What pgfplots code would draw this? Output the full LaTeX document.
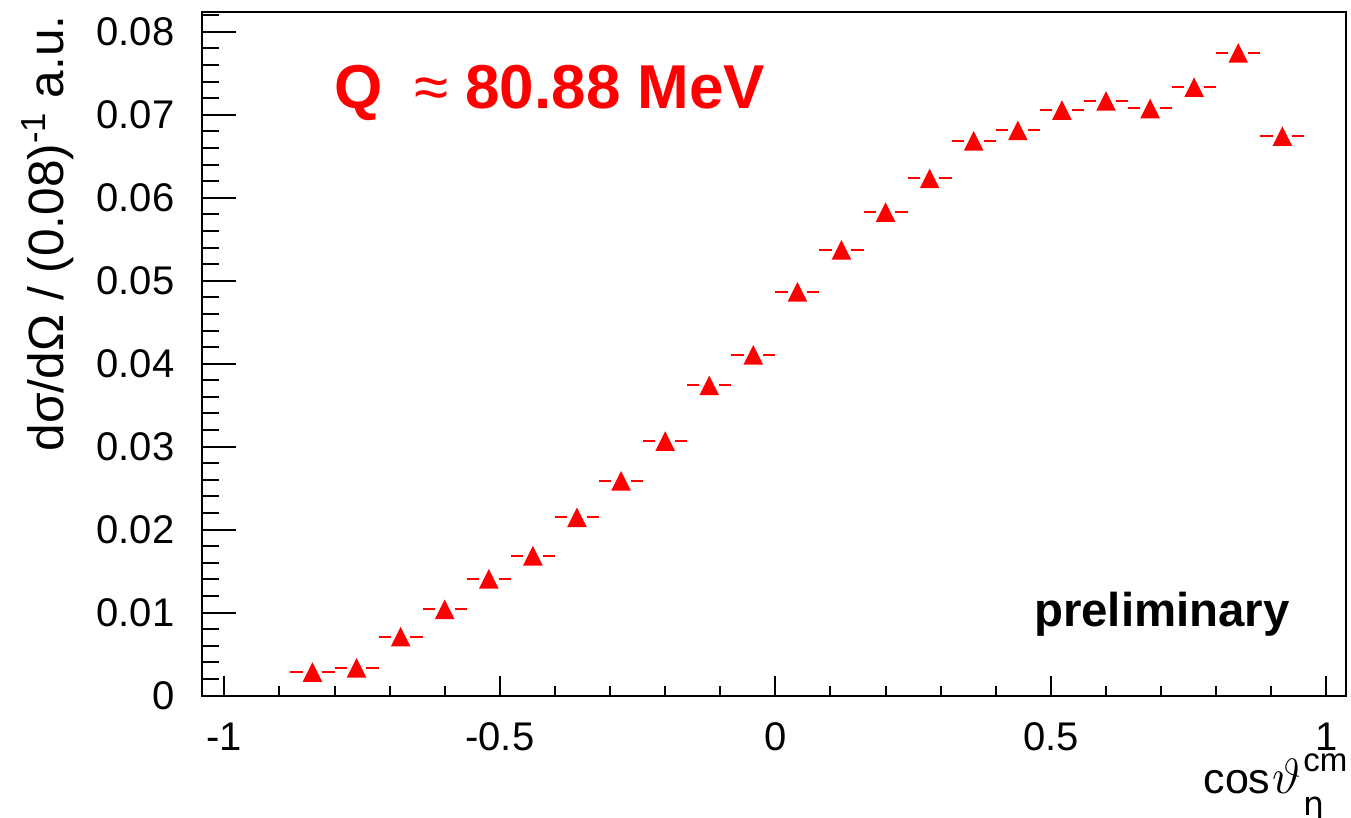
\documentclass[border=0pt]{standalone}
\usepackage{pgfplots}
\pgfplotsset{compat=1.18}
\usepackage{pgfplotstable}
\usepackage{fontspec}
\setmainfont{Liberation Sans}
\newfontfamily\greekfont{DejaVu Sans}

% eta angular distribution, bins of width 0.08 in cos(theta)
\pgfplotstableread{
x      y        ex
-0.84  0.00283  0.04
-0.76  0.00335  0.04
-0.68  0.00709  0.04
-0.60  0.01039  0.04
-0.52  0.01408  0.04
-0.44  0.01685  0.04
-0.36  0.02148  0.04
-0.28  0.02589  0.04
-0.20  0.03067  0.04
-0.12  0.03739  0.04
-0.04  0.04108  0.04
 0.04  0.04867  0.04
 0.12  0.05373  0.04
 0.20  0.05827  0.04
 0.28  0.06234  0.04
 0.36  0.06687  0.04
 0.44  0.06812  0.04
 0.52  0.07057  0.04
 0.60  0.07169  0.04
 0.68  0.07077  0.04
 0.76  0.07334  0.04
 0.84  0.07747  0.04
 0.92  0.06743  0.04
}\xsdata

% filled triangle centred on its bounding box; the error bar is
% blanked out across the marker's width, leaving a small gap
\pgfdeclareplotmark{ctriangle}{%
  \pgfsetfillcolor{white}%
  \pgfpathrectanglecorners{\pgfqpoint{-\pgfplotmarksize}{-1bp}}{\pgfqpoint{\pgfplotmarksize}{1bp}}%
  \pgfusepathqfill
  \pgfsetfillcolor{red}%
  \pgfpathmoveto{\pgfqpoint{0pt}{\pgfplotmarksize}}%
  \pgfpathlineto{\pgfqpoint{-\pgfplotmarksize}{-\pgfplotmarksize}}%
  \pgfpathlineto{\pgfqpoint{\pgfplotmarksize}{-\pgfplotmarksize}}%
  \pgfpathclose
  \pgfusepathqfill}

\pgfplotsset{
  frame/.style={
    scale only axis, width=572bp, height=341.75bp,
    xmin=-1.041, xmax=1.035, ymin=0, ymax=0.0824,
    axis line style={line width=1bp, black},
    every tick/.style={black, line width=1bp},
    tick align=inside, tick pos=left,
    tick label style={font=\fontsize{20bp}{24bp}\selectfont, inner sep=0pt},
  },
}

\begin{document}
\begin{tikzpicture}
% data, x ticks and annotations
\begin{axis}[frame,
  xtick={-1,-0.5,0,0.5,1},
  xticklabels={-1,-0.5,0,0.5,1},
  minor xtick={-0.9,-0.8,-0.7,-0.6,-0.4,-0.3,-0.2,-0.1,0.1,0.2,0.3,0.4,0.6,0.7,0.8,0.9},
  ytick=\empty,
  major tick length=10bp, minor tick length=5bp,
  xticklabel style={yshift=-13.5bp},
]
\addplot[red, only marks, mark=ctriangle, mark size=4.9bp,
  error bars/.cd, x dir=both, x explicit,
  error bar style={red, line width=1bp}, error mark=none]
  table[x=x, y=y, x error=ex]{\xsdata};

\node[anchor=base west, text=red, font=\bfseries\fontsize{31bp}{36bp}\selectfont]
  at (axis cs:-0.812,0.0708) {Q\hspace{0.5em}{\mdseries ≈} 80.88 MeV};
\node[anchor=base west, font=\bfseries\fontsize{23.7bp}{28bp}\selectfont]
  at (axis cs:0.457,0.00826) {preliminary};
\end{axis}
% y ticks, longer than the x ticks
\begin{axis}[frame,
  xtick=\empty,
  ytick={0,0.01,0.02,0.03,0.04,0.05,0.06,0.07,0.08},
  yticklabels={0,0.01,0.02,0.03,0.04,0.05,0.06,0.07,0.08},
  minor ytick={0.002,0.004,0.006,0.008,0.012,0.014,0.016,0.018,0.022,0.024,0.026,0.028,0.032,0.034,0.036,0.038,0.042,0.044,0.046,0.048,0.052,0.054,0.056,0.058,0.062,0.064,0.066,0.068,0.072,0.074,0.076,0.078,0.082},
  major tick length=17bp, minor tick length=8.5bp,
  yticklabel style={xshift=-13.5bp},
]
\end{axis}
% axis titles, placed relative to the 572bp x 341.75bp axis box
\node[anchor=base east, font=\fontsize{21.5bp}{24bp}\selectfont, inner sep=0pt]
  at (573bp,-49bp)
  {cos\hspace{0.04em}{\fontsize{25bp}{28bp}\selectfont$\vartheta$}\hspace{0.06em}\rlap{\raisebox{-11bp}{\fontsize{16.5bp}{18bp}\selectfont\greekfont η}}\raisebox{11bp}{\fontsize{16.5bp}{18bp}\selectfont cm}};
\node[anchor=base east, rotate=90, font=\fontsize{24.8bp}{30bp}\selectfont, inner sep=0pt]
  at (-69.2bp,340.25bp)
  {dσ/dΩ / (0.08)\textsuperscript{-1} a.u.};
\pgfresetboundingbox
\path[use as bounding box] (-100.85bp,-61.25bp) rectangle (574.65bp,347.75bp);
\end{tikzpicture}
\end{document}
